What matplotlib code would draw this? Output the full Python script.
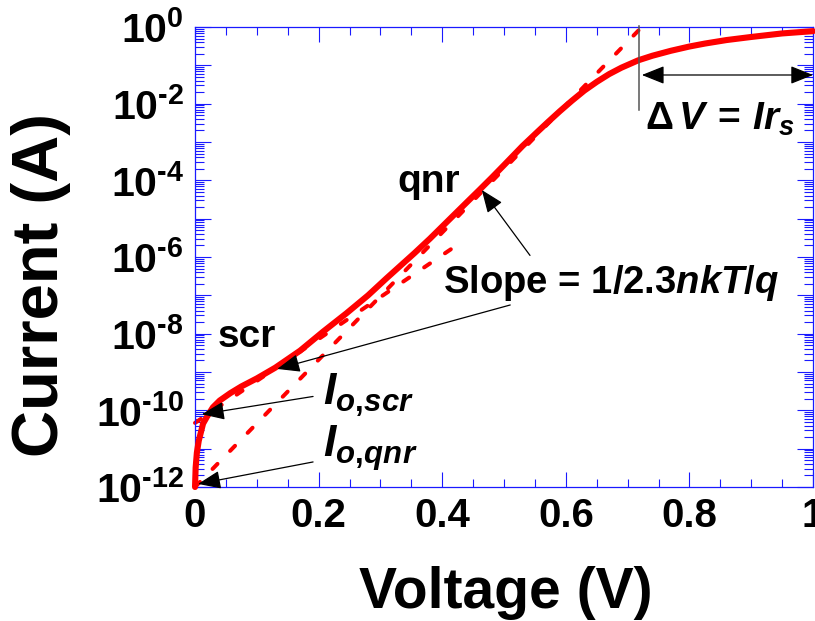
import numpy as np
import matplotlib
matplotlib.use("Agg")
import matplotlib.pyplot as plt
from matplotlib.ticker import LogLocator, FixedLocator, FuncFormatter, NullFormatter

plt.rcParams["font.family"] = ["Liberation Sans", "DejaVu Sans"]
plt.rcParams["font.weight"] = "bold"
plt.rcParams["mathtext.fontset"] = "custom"
plt.rcParams["mathtext.rm"] = "Liberation Sans:bold"
plt.rcParams["mathtext.bf"] = "Liberation Sans:bold"
plt.rcParams["mathtext.it"] = "Liberation Sans:italic:bold"
plt.rcParams["mathtext.default"] = "it"

# measured diode I-V curve
voltage = [0.000, 0.001, 0.003, 0.006, 0.013, 0.020, 0.029, 0.040, 0.057,
           0.075, 0.100, 0.130, 0.170, 0.207, 0.245, 0.280, 0.310, 0.355,
           0.380, 0.420, 0.440, 0.461, 0.480, 0.500, 0.530, 0.555, 0.570,
           0.590, 0.610, 0.630, 0.650, 0.670, 0.690, 0.717, 0.740, 0.770,
           0.800, 0.825, 0.860, 0.900, 0.950, 1.000]
current = [1.0e-12, 3.2e-12, 7.9e-12, 1.6e-11, 4.5e-11, 7.1e-11, 1.2e-10,
           1.8e-10, 2.8e-10, 4.2e-10, 6.8e-10, 1.3e-9, 3.6e-9, 1.12e-8,
           3.4e-8, 1.0e-7, 2.8e-7, 1.26e-6, 3.0e-6, 1.3e-5, 2.7e-5, 5.8e-5,
           1.17e-4, 2.5e-4, 7.9e-4, 1.9e-3, 3.2e-3, 6.3e-3, 1.2e-2, 2.2e-2,
           3.7e-2, 5.9e-2, 8.7e-2, 0.135, 0.178, 0.24, 0.31, 0.37, 0.457,
           0.55, 0.68, 0.78]

# straight-line fits of the two exponential regions
qnr_fit_v = [0.0, 0.723]
qnr_fit_i = [1e-12, 1.0]
scr_fit_v = [0.0, 0.421]
scr_fit_i = [4.7e-11, 1.9e-6]

x_ticks = [0, 0.2, 0.4, 0.6, 0.8, 1]
x_tick_labels = ["0", "0.2", "0.4", "0.6", "0.8", "1"]
y_label_exps = [0, -2, -4, -6, -8, -10, -12]

fig = plt.figure(figsize=(8.15, 6.21), dpi=100)
ax = fig.add_axes([0.2393, 0.2158, 0.7583, 0.7407])

red = "#ff0000"
blue = "#1a1aff"

ax.plot(qnr_fit_v, qnr_fit_i, color=red, lw=2.9, linestyle=(0, (1.75, 4.5)),
        dash_capstyle="round", clip_on=False, zorder=2)
ax.plot(scr_fit_v, scr_fit_i, color=red, lw=2.9, linestyle=(0, (1.75, 4.5)),
        dash_capstyle="round", clip_on=False, zorder=2)
ax.plot(voltage, current, color=red, lw=4.4, solid_capstyle="round",
        solid_joinstyle="round", clip_on=False, zorder=3)

ax.set_yscale("log")
ax.set_xlim(0, 1)
ax.set_ylim(1e-12, 1)

ax.xaxis.set_major_locator(FixedLocator(x_ticks))
ax.set_xticklabels(x_tick_labels)
ax.xaxis.set_minor_locator(FixedLocator(np.arange(0, 1.001, 0.05)))

ax.yaxis.set_major_locator(LogLocator(base=10, numticks=30))
ax.yaxis.set_minor_locator(LogLocator(base=10, subs=np.arange(2, 10), numticks=30))
ax.yaxis.set_minor_formatter(NullFormatter())


def decade_label(val, pos):
    e = int(round(np.log10(val)))
    if e in y_label_exps:
        exp = str(e).replace("-", "\u2010")
        return r"$\mathrm{10^{%s}}$" % exp
    return ""


ax.yaxis.set_major_formatter(FuncFormatter(decade_label))

for s in ax.spines.values():
    s.set_color(blue)
    s.set_linewidth(0.9)

ax.tick_params(axis="both", which="both", direction="in", top=True,
               right=True, color=blue, width=0.8)
ax.tick_params(axis="x", which="major", length=10.8, labelsize=29, pad=7)
ax.tick_params(axis="x", which="minor", length=5.8)
ax.tick_params(axis="y", which="major", length=11.5, labelsize=29.5, pad=8)
ax.tick_params(axis="y", which="minor", length=6.5)

# axis titles
fig.text(0.050, 0.541, "Current (A)", rotation=90, fontsize=47,
         fontweight="bold", ha="center", va="center")
fig.text(0.621, 0.021, "Voltage (V)", fontsize=41, fontweight="bold",
         ha="center", va="baseline")

# region labels
ax.text(0.327, 5.0e-5, "qnr", fontsize=28, fontweight="bold", va="baseline")
ax.text(0.037, 4.5e-9, "scr", fontsize=28, fontweight="bold", va="baseline")
ax.text(0.401, 1.15e-7, r"Slope = 1/2.3$nkT/q$", fontsize=27.5,
        fontweight="bold", va="baseline")
ax.text(0.207, 1.4e-10, r"$I_{o,\!scr}$", fontsize=32, va="baseline")
ax.text(0.207, 6.0e-12, r"$I_{o,\!qnr}$", fontsize=32, va="baseline")
ax.text(0.728, 2.05e-3, r"$\mathrm{\Delta}\,V\,\mathrm{=}\,Ir_s$", fontsize=28,
        va="baseline")

arrow = dict(arrowstyle="-|>,head_length=0.7,head_width=0.28", color="black",
             lw=0.9, mutation_scale=20, shrinkA=0, shrinkB=0)
ax.annotate("", xy=(0.464, 5.6e-5), xytext=(0.542, 1.1e-6), arrowprops=arrow)
ax.annotate("", xy=(0.133, 1.2e-9), xytext=(0.510, 5.6e-8), arrowprops=arrow)
ax.annotate("", xy=(0.011, 7.9e-11), xytext=(0.191, 2.3e-10), arrowprops=arrow)
ax.annotate("", xy=(0.005, 1.2e-12), xytext=(0.191, 4.5e-12), arrowprops=arrow)

# series-resistance voltage drop
ax.plot([0.718, 0.718], [6.9e-3, 1.05], color="#555555", lw=1.1,
        clip_on=False, zorder=4)
dv_arrow = dict(arrowstyle="<|-|>,head_length=0.7,head_width=0.28",
                color="black", lw=0.9, mutation_scale=20, shrinkA=0, shrinkB=0)
ax.annotate("", xy=(1.0, 0.056), xytext=(0.723, 0.056), arrowprops=dv_arrow,
            annotation_clip=False)

fig.savefig("out.png", dpi=100)
